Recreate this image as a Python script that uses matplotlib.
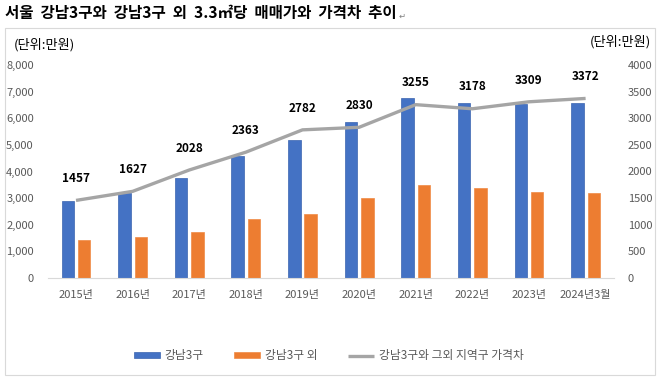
import matplotlib
matplotlib.use('Agg')
import matplotlib.pyplot as plt
from matplotlib.patches import Rectangle
import numpy as np

plt.rcParams['font.family'] = ['Noto Sans CJK KR', 'DejaVu Sans']

years = ['2015년', '2016년', '2017년', '2018년', '2019년', '2020년',
         '2021년', '2022년', '2023년', '2024년3월']
gangnam = [2890, 3180, 3770, 4590, 5190, 5850, 6760, 6560, 6540, 6590]
others = [1430, 1550, 1720, 2210, 2400, 3020, 3500, 3370, 3220, 3210]
gap = [1457, 1627, 2028, 2363, 2782, 2830, 3255, 3178, 3309, 3372]

BLUE = '#4472C4'
ORANGE = '#ED7D31'
GRAY = '#A5A5A5'
TXT = '#595959'

fig = plt.figure(figsize=(6.58, 3.77), dpi=100)
fig.patch.set_facecolor('white')

# frame around the chart area
fig.patches.append(Rectangle((5/658, 2/377), 650/658, 347/377, transform=fig.transFigure,
                             fill=False, edgecolor='#D9D9D9', linewidth=0.8))

title = fig.text(5/658, 1 - 13/377, '서울  강남3구와  강남3구  외  3.3㎡당  매매가와  가격차  추이',
                 fontsize=11.2, fontweight='bold', va='center', ha='left', color='black')
fig.canvas.draw()
tx = title.get_window_extent().x1 / fig.bbox.width
fig.text(tx + 2/658, 1 - 16/377, '↵', fontsize=6, va='center', ha='left', color='#808080')

ax = fig.add_axes([0.0725, 0.2626, 0.8605, 0.565])
x = np.arange(len(years))
w = 0.22
ax.bar(x - 0.145, gangnam, w, color=BLUE, edgecolor='#3A64B0', linewidth=0.5, label='강남3구')
ax.bar(x + 0.145, others, w, color=ORANGE, edgecolor='#F08A45', linewidth=0.5, label='강남3구 외')
ax.set_ylim(0, 8000)
ax.set_xlim(-0.5, len(years) - 0.5)
ax.set_yticks(range(0, 8001, 1000))
ax.set_yticklabels([f'{v:,}' for v in range(0, 8001, 1000)])
ax.set_xticks(x)
ax.set_xticklabels(years)
ax.tick_params(axis='both', length=0, labelsize=8, colors=TXT)
ax.tick_params(axis='x', pad=9)
ax.tick_params(axis='y', pad=10)
for s in ['top', 'right', 'left']:
    ax.spines[s].set_visible(False)
ax.spines['bottom'].set_color('#D9D9D9')

ax2 = ax.twinx()
ax2.plot(x, gap, color=GRAY, linewidth=2.4, solid_capstyle='butt', label='강남3구와 그외 지역구 가격차')
ax2.set_ylim(0, 4000)
ax2.set_yticks(range(0, 4001, 500))
ax2.tick_params(axis='y', length=0, labelsize=8, colors=TXT, pad=10)
for s in ['top', 'right', 'left', 'bottom']:
    ax2.spines[s].set_visible(False)
for xi, g in zip(x, gap):
    ax2.annotate(str(g), (xi, g), xytext=(0, 11), textcoords='offset points',
                 ha='center', va='bottom', fontsize=8.5, fontweight='bold', color='black')

fig.text(14/658, 1 - 45/377, '(단위:만원)', fontsize=9.5, va='center', ha='left', color='black')
fig.text(651/658, 1 - 42/377, '(단위:만원)', fontsize=9.5, va='center', ha='right', color='black')

h1, l1 = ax.get_legend_handles_labels()
h2, l2 = ax2.get_legend_handles_labels()
fig.legend(h1 + h2, l1 + l2, loc='center', bbox_to_anchor=(0.5, 1 - 356/377), ncol=3,
           frameon=False, fontsize=8.5, handlelength=2.2, handleheight=0.4,
           handletextpad=0.4, columnspacing=2.6, labelcolor=TXT)

fig.savefig('out.png', dpi=100)
